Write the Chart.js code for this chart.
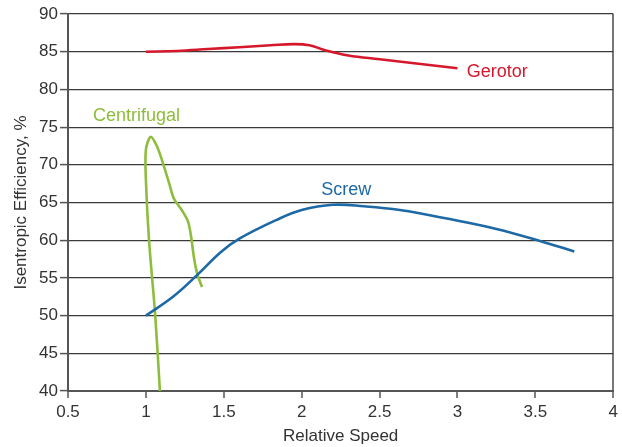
<!DOCTYPE html>
<html>
<head>
<meta charset="utf-8">
<script src="https://cdn.jsdelivr.net/npm/chart.js@4/dist/chart.umd.min.js"></script>
<style>
html,body{margin:0;padding:0;background:#fff;}
#wrap{width:622px;height:447px;}
</style>
</head>
<body>
<div id="wrap"><canvas id="c" width="622" height="447"></canvas></div>
<script>
const gerotorX = [1.0, 1.2, 1.4, 1.6, 1.8, 1.95, 2.05, 2.15, 2.3, 2.5, 2.75, 3.0];
const gerotorY = [85.0, 85.1, 85.35, 85.6, 85.85, 86.0, 85.85, 85.2, 84.5, 84.0, 83.4, 82.8];
const screwX = [1.0, 1.18, 1.33, 1.48, 1.6, 1.84, 2.0, 2.2, 2.4, 2.63, 2.95, 3.25, 3.53, 3.75];
const screwY = [50.0, 52.6, 55.4, 58.4, 60.2, 62.7, 64.0, 64.7, 64.5, 64.0, 62.8, 61.5, 59.9, 58.5];
const centX = [1.09, 1.06, 1.02, 1.0, 1.0, 1.03, 1.07, 1.11, 1.15, 1.18, 1.23, 1.27, 1.29, 1.31, 1.33, 1.36];
const centY = [40.0, 50.0, 60.0, 68.0, 72.0, 73.7, 72.5, 70.2, 67.5, 65.5, 64.0, 62.5, 60.5, 57.5, 55.5, 53.8];
const xTicks = [0.5, 1, 1.5, 2, 2.5, 3, 3.5, 4];
const yTicks = [40, 45, 50, 55, 60, 65, 70, 75, 80, 85, 90];
const seriesNames = ['Gerotor', 'Screw', 'Centrifugal'];
const seriesColors = ['#d6182c', '#1d69a6', '#8dbd3c'];
const labelAnchorX = [3.06, 2.125, 0.66];
const labelAnchorY = [82.3, 66.6, 76.5];

const FONT = '"Liberation Sans", Arial, sans-serif';
const pts = (xs, ys) => xs.map((x, i) => ({x: x, y: ys[i]}));

const labelPlugin = {
  id: 'seriesLabels',
  afterDatasetsDraw(chart) {
    const ctx = chart.ctx;
    const xs = chart.scales.x, ys = chart.scales.y;
    ctx.save();
    ctx.font = '18px ' + FONT;
    ctx.textBaseline = 'middle';
    ctx.textAlign = 'left';
    seriesNames.forEach((n, i) => {
      ctx.fillStyle = seriesColors[i];
      ctx.fillText(n, xs.getPixelForValue(labelAnchorX[i]), ys.getPixelForValue(labelAnchorY[i]));
    });
    ctx.restore();
  }
};

const mk = (name, xs, ys, color, tension) => ({
  label: name, data: pts(xs, ys), showLine: true, borderColor: color,
  backgroundColor: color, borderWidth: 2.6, pointRadius: 0, tension: tension, fill: false
});

new Chart(document.getElementById('c'), {
  type: 'scatter',
  data: {
    datasets: [
      mk(seriesNames[0], gerotorX, gerotorY, seriesColors[0], 0.4),
      mk(seriesNames[1], screwX, screwY, seriesColors[1], 0.4),
      mk(seriesNames[2], centX, centY, seriesColors[2], 0.3)
    ]
  },
  options: {
    responsive: false,
    animation: false,
    layout: {padding: {left: 11, right: 3, top: 14, bottom: 0}},
    plugins: {legend: {display: false}, tooltip: {enabled: false}},
    scales: {
      x: {
        type: 'linear', min: 0.5, max: 4,
        afterBuildTicks: s => { s.ticks = xTicks.map(v => ({value: v})); },
        afterFit: s => { s.height = 56; },
        ticks: {color: '#333', font: {size: 17, family: FONT}, padding: 4, maxRotation: 0,
                callback: v => String(v)},
        grid: {
          display: true, drawOnChartArea: true, drawTicks: true, tickLength: 7,
          color: c => (c.tick && c.tick.value === 4) ? '#777' : 'rgba(0,0,0,0)',
          lineWidth: 2, tickColor: '#555', tickWidth: 1.5
        },
        border: {display: true, color: '#555', width: 2},
        title: {display: true, text: 'Relative Speed', color: '#333', font: {size: 17, family: FONT}, padding: {top: 5, bottom: 0}}
      },
      y: {
        type: 'linear', min: 40, max: 90,
        afterBuildTicks: s => { s.ticks = yTicks.map(v => ({value: v})); },
        afterFit: s => { s.width = 57; },
        ticks: {color: '#333', font: {size: 17, family: FONT}, padding: 2},
        grid: {color: '#3a3a3a', lineWidth: 1.2, tickLength: 8, tickColor: '#555', tickWidth: 1.5},
        border: {display: true, color: '#555', width: 2},
        title: {display: true, text: 'Isentropic Efficiency, %', color: '#333', font: {size: 17, family: FONT}, padding: {top: 0, bottom: 0}}
      }
    }
  },
  plugins: [labelPlugin]
});
</script>
</body>
</html>
